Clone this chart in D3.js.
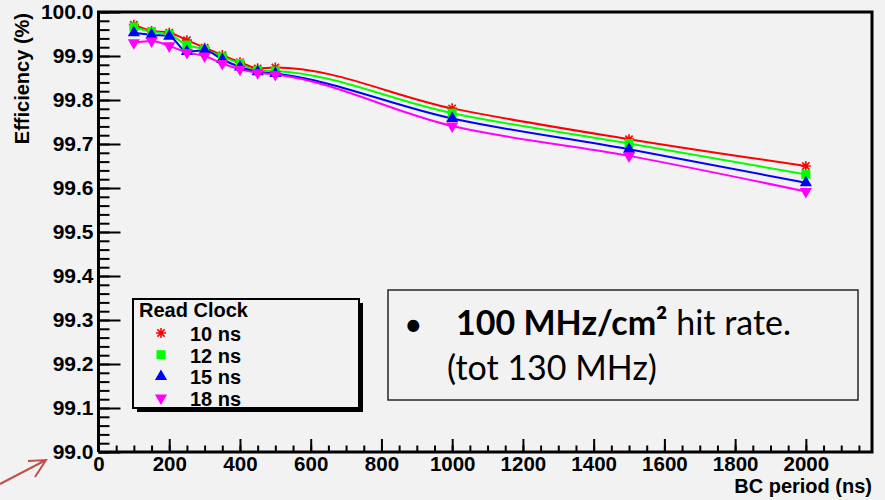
<!DOCTYPE html>
<html>
<head>
<meta charset="utf-8">
<script src="https://cdn.jsdelivr.net/npm/d3@7"></script>
<style>
    body { margin: 0; background: #f2f2f2; }
    svg { display: block; }
</style>
</head>
<body>
<svg id="chart" width="885" height="500"></svg>
<script>

// BC period (ns) on the x axis
const bcPeriod = [100, 150, 200, 250, 300, 350, 400, 450, 500, 1000, 1500, 2000];

// efficiency (%) for each read clock
const eff10ns = [99.971, 99.957, 99.953, 99.936, 99.919, 99.902, 99.886, 99.872, 99.874, 99.781, 99.711, 99.650];
const eff12ns = [99.966, 99.955, 99.949, 99.925, 99.915, 99.898, 99.883, 99.867, 99.866, 99.770, 99.701, 99.631];
const eff15ns = [99.953, 99.948, 99.945, 99.910, 99.913, 99.892, 99.875, 99.864, 99.860, 99.758, 99.688, 99.612];
const eff18ns = [99.930, 99.934, 99.923, 99.908, 99.900, 99.883, 99.870, 99.862, 99.858, 99.741, 99.673, 99.592];

const seriesNames = ["10 ns", "12 ns", "15 ns", "18 ns"];
const seriesValues = [eff10ns, eff12ns, eff15ns, eff18ns];
const seriesColors = ["#ff0000", "#00ff00", "#0000ff", "#ff00ff"];
const seriesMarkers = ["star", "square", "triangleUp", "triangleDown"];

const yTicks = [99.0, 99.1, 99.2, 99.3, 99.4, 99.5, 99.6, 99.7, 99.8, 99.9, 100.0];
const xTicks = [0, 200, 400, 600, 800, 1000, 1200, 1400, 1600, 1800, 2000];

const rootFont = "'Liberation Sans', Arial, Helvetica, sans-serif";

function rootText(sel, size) {
    sel.style("font-family", rootFont)
        .style("font-weight", "bold")
        .style("font-size", size + "px")
        .attr("fill", "#000");
}

const svg = d3.select("#chart");

svg.append("rect")
    .attr("width", 885)
    .attr("height", 500)
    .attr("fill", "#f2f2f2");

const x = d3.scaleLinear().domain([0, 2187]).range([98.5, 872]);
const y = d3.scaleLinear().domain([99.0, 100.0]).range([452, 12]);

// marker shapes, ROOT style
function markerPath(kind) {
    if (kind === "star") {
        const r = 5, d = 3.6;
        return `M${-r},0H${r}M0,${-r}V${r}M${-d},${-d}L${d},${d}M${-d},${d}L${d},${-d}`;
    }
    if (kind === "square") return d3.symbol(d3.symbolSquare, 81)();
    return d3.symbol(d3.symbolTriangle, 64)();
}

// minor ticks
svg.append("g")
    .attr("transform", `translate(${x(0)},0)`)
    .call(d3.axisLeft(y).tickValues(d3.range(99.0, 100.001, 0.02)).tickSize(-11).tickFormat(""))
    .call(g => g.select(".domain").remove())
    .call(g => g.selectAll("line").attr("stroke-width", 2));

svg.append("g")
    .attr("transform", `translate(0,${y(99.0)})`)
    .call(d3.axisBottom(x).tickValues(d3.range(0, 2187, 50)).tickSize(-6.5).tickFormat(""))
    .call(g => g.select(".domain").remove())
    .call(g => g.selectAll("line").attr("stroke-width", 2));

// major ticks with labels
svg.append("g")
    .attr("transform", `translate(${x(0)},0)`)
    .call(d3.axisLeft(y).tickValues(yTicks).tickSize(-22).tickPadding(5).tickFormat(d3.format(".1f")))
    .call(g => g.select(".domain").remove())
    .call(g => g.selectAll("line").attr("stroke-width", 2))
    .call(g => g.selectAll("text").call(rootText, 21));

svg.append("g")
    .attr("transform", `translate(0,${y(99.0)})`)
    .call(d3.axisBottom(x).tickValues(xTicks).tickSize(-13).tickPadding(4).tickFormat(d3.format("d")))
    .call(g => g.select(".domain").remove())
    .call(g => g.selectAll("line").attr("stroke-width", 2))
    .call(g => g.selectAll("text").call(rootText, 20.5));

// frame
svg.append("path")
    .attr("d", `M${x(0)},${y(99.0)}V${y(100.0)}H${x.range()[1]}V${y(99.0)}H${x(0)}`)
    .attr("fill", "none")
    .attr("stroke", "#000")
    .attr("stroke-width", 3);

// axis titles
svg.append("text")
    .attr("text-anchor", "end")
    .attr("x", 872)
    .attr("y", 493)
    .call(rootText, 20)
    .text("BC period (ns)");

svg.append("text")
    .attr("text-anchor", "end")
    .attr("transform", "translate(29,13) rotate(-90)")
    .call(rootText, 20)
    .text("Efficiency (%)");

// curves and markers
const line = d3.line()
    .x((d, i) => x(bcPeriod[i]))
    .y(d => y(d))
    .curve(d3.curveMonotoneX);

seriesValues.forEach((vals, s) => {
    svg.append("path")
        .datum(vals)
        .attr("d", line)
        .attr("fill", "none")
        .attr("stroke", seriesColors[s])
        .attr("stroke-width", 2);
});

seriesValues.forEach((vals, s) => {
    svg.selectAll(".m" + s)
        .data(vals)
        .enter().append("path")
        .attr("class", "m" + s)
        .attr("d", markerPath(seriesMarkers[s]))
        .attr("transform", (d, i) => `translate(${x(bcPeriod[i])},${y(d)})` + (seriesMarkers[s] === "triangleDown" ? " rotate(180)" : ""))
        .attr("fill", seriesMarkers[s] === "star" ? "none" : seriesColors[s])
        .attr("stroke", seriesColors[s])
        .attr("stroke-width", seriesMarkers[s] === "star" ? 1.6 : 0);
});

// legend
const legend = svg.append("g");
legend.append("rect")
    .attr("x", 137).attr("y", 303).attr("width", 226).attr("height", 109)
    .attr("fill", "#000");
legend.append("rect")
    .attr("x", 133).attr("y", 299).attr("width", 226).attr("height", 109)
    .attr("fill", "#f2f2f2")
    .attr("stroke", "#000")
    .attr("stroke-width", 2);
legend.append("text")
    .attr("x", 139).attr("y", 317)
    .call(rootText, 20)
    .text("Read Clock");

seriesNames.forEach((name, s) => {
    const cy = 333 + s * 21.7;
    legend.append("path")
        .attr("d", markerPath(seriesMarkers[s]))
        .attr("transform", `translate(161,${cy})` + (seriesMarkers[s] === "triangleDown" ? " rotate(180)" : ""))
        .attr("fill", seriesMarkers[s] === "star" ? "none" : seriesColors[s])
        .attr("stroke", seriesColors[s])
        .attr("stroke-width", seriesMarkers[s] === "star" ? 1.6 : 0);
    legend.append("text")
        .attr("x", 190).attr("y", cy + 8)
        .call(rootText, 20)
        .text(name);
});

// slide annotation box
const note = svg.append("g");
note.append("rect")
    .attr("x", 388).attr("y", 290).attr("width", 470).attr("height", 110)
    .attr("fill", "#f2f2f2")
    .attr("stroke", "#262626")
    .attr("stroke-width", 1.5);

const noteFont = "Lato, 'Open Sans', sans-serif";
note.append("text")
    .attr("x", 404).attr("y", 336)
    .attr("font-family", noteFont).attr("font-size", 32)
    .text("•");
const line1 = note.append("text")
    .attr("x", 456).attr("y", 335)
    .attr("font-family", noteFont).attr("font-size", 34);
line1.append("tspan").attr("font-weight", "bold").text("100 MHz/cm²");
line1.append("tspan").text(" hit rate.");
note.append("text")
    .attr("x", 447).attr("y", 380)
    .attr("font-family", noteFont).attr("font-size", 34)
    .text("(tot 130 MHz)");

// red arrow pointing at 99.0
svg.append("path")
    .attr("d", "M0,484L46,460M28,461L46,460L35,477")
    .attr("fill", "none")
    .attr("stroke", "#c0504d")
    .attr("stroke-width", 2);

</script>
</body>
</html>
